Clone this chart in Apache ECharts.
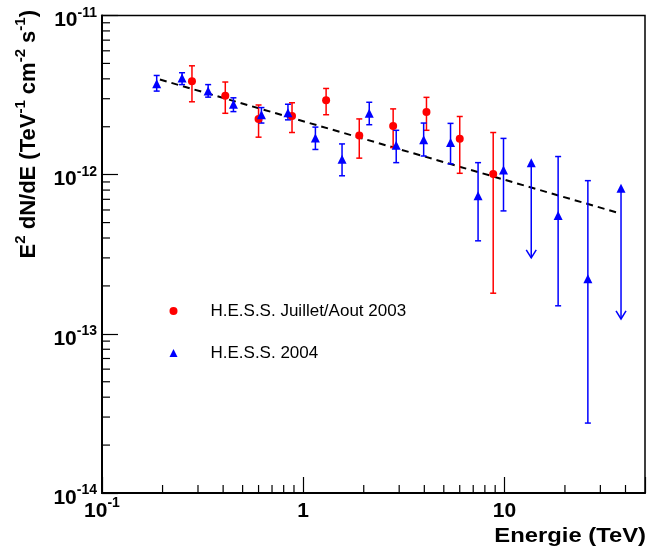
<!DOCTYPE html>
<html>
<head>
<meta charset="utf-8">
<script src="https://cdn.jsdelivr.net/npm/echarts@6/dist/echarts.min.js"></script>
<style>
  html, body { margin: 0; padding: 0; background: #ffffff; }
  #chart { width: 648px; height: 558px; }
</style>
</head>
<body>
<div id="chart"></div>
<script>
// H.E.S.S. July/August 2003 campaign: energy (TeV), E^2 dN/dE and 1-sigma bounds
const energy2003 = [0.28, 0.41, 0.60, 0.88, 1.30, 1.90, 2.80, 4.10, 6.0, 8.8];
const flux2003   = [3.86e-12, 3.13e-12, 2.24e-12, 2.34e-12, 2.93e-12, 1.76e-12, 2.02e-12, 2.48e-12, 1.68e-12, 1.01e-12];
const fluxHi2003 = [4.83e-12, 3.82e-12, 2.74e-12, 2.83e-12, 3.48e-12, 2.24e-12, 2.59e-12, 3.06e-12, 2.32e-12, 1.84e-12];
const fluxLo2003 = [2.87e-12, 2.43e-12, 1.72e-12, 1.84e-12, 2.38e-12, 1.27e-12, 1.48e-12, 1.90e-12, 1.02e-12, 1.80e-13];

// H.E.S.S. 2004 campaign; upper limits carry an arrow down to fluxLo
const energy2004 = [0.187, 0.25, 0.337, 0.45, 0.62, 0.84, 1.15, 1.56, 2.13, 2.9, 3.97, 5.4, 7.4, 9.9, 13.6, 18.5, 26, 38];
const flux2004   = [3.72e-12, 4.05e-12, 3.35e-12, 2.77e-12, 2.38e-12, 2.45e-12, 1.70e-12, 1.25e-12, 2.43e-12, 1.53e-12, 1.66e-12, 1.59e-12, 7.37e-13, 1.07e-12, 1.19e-12, 5.54e-13, 2.22e-13, 8.22e-13];
const fluxHi2004 = [4.20e-12, 4.37e-12, 3.68e-12, 3.04e-12, 2.64e-12, 2.77e-12, 1.99e-12, 1.56e-12, 2.85e-12, 1.90e-12, 2.11e-12, 2.10e-12, 1.19e-12, 1.69e-12, null, 1.30e-12, 9.17e-13, null];
const fluxLo2004 = [3.35e-12, 3.68e-12, 3.07e-12, 2.49e-12, 2.11e-12, 2.21e-12, 1.44e-12, 9.84e-13, 2.06e-12, 1.19e-12, 1.31e-12, 1.17e-12, 3.84e-13, 5.92e-13, 3.0e-13, 1.50e-13, 2.75e-14, 1.24e-13];
const upperLimit2004 = [0, 0, 0, 0, 0, 0, 0, 0, 0, 0, 0, 0, 0, 0, 1, 0, 0, 1];

// Power-law fit, drawn as a straight segment in log-log space
const fitEnergy = [0.194, 37.8];
const fitFlux   = [3.96e-12, 5.70e-13];

// Minor tick positions (2..9 within each decade)
const xMinorTicks = [0.2, 0.3, 0.4, 0.5, 0.6, 0.7, 0.8, 0.9, 2, 3, 4, 5, 6, 7, 8, 9, 20, 30, 40];
const yMinorTicks = [2e-14, 3e-14, 4e-14, 5e-14, 6e-14, 7e-14, 8e-14, 9e-14,
                     2e-13, 3e-13, 4e-13, 5e-13, 6e-13, 7e-13, 8e-13, 9e-13,
                     2e-12, 3e-12, 4e-12, 5e-12, 6e-12, 7e-12, 8e-12, 9e-12];

const seriesNames = ['H.E.S.S. Juillet/Aout 2003', 'H.E.S.S. 2004'];
const xRange = [0.1, 50];
const yRange = [1e-14, 1e-11];

const FONT = '"Liberation Sans", Arial, Helvetica, sans-serif';
const RED = '#ff0000';
const BLUE = '#0000ff';

function powerLabel(v, isX) {
  const e = Math.round(Math.log10(v));
  if (Math.abs(Math.log10(v) - e) > 1e-6) return '';
  if (isX && e === 0) return '{b|1}';
  if (isX && e === 1) return '{b|10}';
  return '{b|10}{s|' + e + '}';
}

function labelRich() {
  return {
    b: { fontFamily: FONT, fontWeight: 'bold', fontSize: 21, lineHeight: 20, padding: [10, 0, 0, 0], color: '#000' },
    s: { fontFamily: FONT, fontWeight: 'bold', fontSize: 14, lineHeight: 13, padding: [6, 0, 11, 0], color: '#000' }
  };
}

function errorBars(color) {
  return function (params, api) {
    const x = api.value(0);
    const y = api.value(1);
    const lo = api.value(2);
    const hi = api.value(3);
    const ul = api.value(4);
    const style = { stroke: color, lineWidth: 1.5, fill: null };
    const c = api.coord([x, y]);
    const pLo = api.coord([x, lo]);
    const children = [];
    if (ul) {
      children.push({ type: 'line', shape: { x1: c[0], y1: c[1], x2: pLo[0], y2: pLo[1] }, style: style });
      children.push({ type: 'polyline', shape: { points: [[pLo[0] - 5, pLo[1] - 8], [pLo[0], pLo[1]], [pLo[0] + 5, pLo[1] - 8]] }, style: style });
    } else {
      const pHi = api.coord([x, hi]);
      children.push({ type: 'line', shape: { x1: pHi[0], y1: pHi[1], x2: pLo[0], y2: pLo[1] }, style: style });
      children.push({ type: 'line', shape: { x1: pHi[0] - 3, y1: pHi[1], x2: pHi[0] + 3, y2: pHi[1] }, style: style });
      children.push({ type: 'line', shape: { x1: pLo[0] - 3, y1: pLo[1], x2: pLo[0] + 3, y2: pLo[1] }, style: style });
    }
    return { type: 'group', children: children };
  };
}

function minorTicks(horizontal) {
  return function (params, api) {
    const p = api.coord([api.value(0), api.value(1)]);
    const shape = horizontal
      ? { x1: p[0], y1: p[1], x2: p[0] + 8, y2: p[1] }
      : { x1: p[0], y1: p[1], x2: p[0], y2: p[1] - 8 };
    return { type: 'line', shape: shape, style: { stroke: '#000', lineWidth: 1.2 } };
  };
}

const chart = echarts.init(document.getElementById('chart'), null, { renderer: 'canvas' });

chart.setOption({
  animation: false,
  backgroundColor: '#ffffff',
  grid: {
    left: 102, right: 2, top: 9, bottom: 65,
    show: true, borderColor: '#000', borderWidth: 1.5, backgroundColor: 'transparent'
  },
  xAxis: {
    type: 'log', logBase: 10, min: xRange[0], max: xRange[1],
    axisLine: { lineStyle: { color: '#000', width: 2 } },
    axisTick: { inside: true, length: 16, lineStyle: { color: '#000', width: 1.2 } },
    splitLine: { show: false },
    axisLabel: {
      margin: 3,
      formatter: function (v) { return powerLabel(v, true); },
      rich: labelRich()
    }
  },
  yAxis: {
    type: 'log', logBase: 10, min: yRange[0], max: yRange[1],
    axisLine: { lineStyle: { color: '#000', width: 2 } },
    axisTick: { inside: true, length: 16, lineStyle: { color: '#000', width: 1.2 } },
    splitLine: { show: false },
    axisLabel: {
      margin: 5,
      formatter: function (v) { return powerLabel(v, false); },
      rich: labelRich()
    }
  },
  legend: {
    orient: 'vertical',
    left: 164.5, top: 297,
    itemWidth: 8, itemHeight: 8, itemGap: 24,
    data: seriesNames,
    textStyle: { fontFamily: FONT, fontSize: 17, lineHeight: 18, color: '#000', padding: [0, 0, 0, 28] }
  },
  graphic: [
    {
      type: 'text', x: 646, y: 546.5, scaleX: 1.19,
      style: { text: 'Energie (TeV)', align: 'right', verticalAlign: 'bottom',
               font: 'bold 20px ' + FONT, fill: '#000' }
    },
    {
      type: 'text', x: 25.5, y: 10, rotation: Math.PI / 2,
      style: {
        text: '{m|E}{s|2}{m| dN/dE (TeV}{s|-1}{m| cm}{s|-2}{m| s}{s|-1}{m|)}',
        align: 'right', verticalAlign: 'middle', fill: '#000',
        rich: {
          m: { fontFamily: FONT, fontWeight: 'bold', fontSize: 22, lineHeight: 22, padding: [7, 0, 0, 0] },
          s: { fontFamily: FONT, fontWeight: 'bold', fontSize: 15, lineHeight: 15, padding: [2, 0, 12, 0] }
        }
      }
    }
  ],
  series: [
    {
      type: 'custom', name: 'minorX', silent: true, z: 5,
      renderItem: minorTicks(false),
      data: xMinorTicks.map(function (v) { return [v, yRange[0]]; })
    },
    {
      type: 'custom', name: 'minorY', silent: true, z: 5,
      renderItem: minorTicks(true),
      data: yMinorTicks.map(function (v) { return [xRange[0], v]; })
    },
    {
      type: 'line', name: 'fit', silent: true, z: 3,
      data: fitEnergy.map(function (e, i) { return [e, fitFlux[i]]; }),
      symbol: 'none',
      lineStyle: { color: '#000', width: 2, type: [7, 5] }
    },
    {
      type: 'custom', name: 'err2003', silent: true, z: 4,
      renderItem: errorBars(RED),
      encode: { x: 0, y: 1 },
      data: energy2003.map(function (e, i) { return [e, flux2003[i], fluxLo2003[i], fluxHi2003[i], 0]; })
    },
    {
      type: 'custom', name: 'err2004', silent: true, z: 4,
      renderItem: errorBars(BLUE),
      encode: { x: 0, y: 1 },
      data: energy2004.map(function (e, i) {
        return [e, flux2004[i], fluxLo2004[i], fluxHi2004[i] === null ? flux2004[i] : fluxHi2004[i], upperLimit2004[i]];
      })
    },
    {
      type: 'scatter', name: seriesNames[0], z: 6,
      symbol: 'circle', symbolSize: 8,
      itemStyle: { color: RED, opacity: 1 },
      data: energy2003.map(function (e, i) { return [e, flux2003[i]]; })
    },
    {
      type: 'scatter', name: seriesNames[1], z: 6,
      symbol: 'triangle', symbolSize: 9,
      itemStyle: { color: BLUE, opacity: 1 },
      data: energy2004.map(function (e, i) { return [e, flux2004[i]]; })
    }
  ]
});
</script>
</body>
</html>
